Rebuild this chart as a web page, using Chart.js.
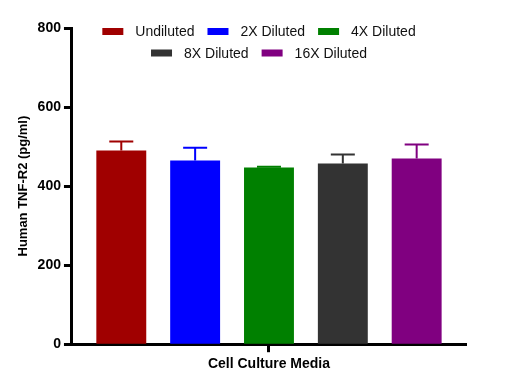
<!DOCTYPE html>
<html>
<head>
<meta charset="utf-8">
<script src="https://cdn.jsdelivr.net/npm/chart.js@4/dist/chart.umd.min.js"></script>
<style>
  html, body { margin: 0; padding: 0; background: #fff; }
  .chart { width: 511px; height: 389px; }
</style>
</head>
<body>
<div class="chart"><canvas id="chart"></canvas></div>
<script>
// data
const categories = ["Cell Culture Media"];
const dilutions = ["Undiluted", "2X Diluted", "4X Diluted", "8X Diluted", "16X Diluted"];
const means = [490, 465, 447, 457, 470];
const errors = [23, 32, 2, 23, 35];
const colors = ["#a00000", "#0000ff", "#008000", "#333333", "#800080"];
const yTicks = [0, 200, 400, 600, 800];

const FONT = '"Liberation Sans", Arial, sans-serif';

// upper error bars only, like the prism export
const errorBars = {
  id: "errorBars",
  afterDatasetsDraw(chart) {
    const ctx = chart.ctx;
    const y = chart.scales.y;
    ctx.save();
    ctx.lineWidth = 2;
    chart.data.datasets.forEach((ds, i) => {
      const bar = chart.getDatasetMeta(i).data[0];
      const top = y.getPixelForValue(ds.data[0] + ds.err);
      ctx.strokeStyle = ds.backgroundColor;
      ctx.beginPath();
      ctx.moveTo(bar.x, bar.y);
      ctx.lineTo(bar.x, top);
      ctx.moveTo(bar.x - 12, top);
      ctx.lineTo(bar.x + 12, top);
      ctx.stroke();
    });
    ctx.restore();
  }
};

// legend in two centred rows (3 + 2), sitting inside the plot
const legendRows = {
  id: "legendRows",
  afterDraw(chart) {
    const ctx = chart.ctx;
    const sets = chart.data.datasets;
    const rows = [3, 2];
    ctx.save();
    ctx.font = "14px " + FONT;
    ctx.textBaseline = "middle";
    let start = 0;
    rows.forEach((count, r) => {
      const items = sets.slice(start, start + count);
      start += count;
      const widths = items.map(d => 33 + ctx.measureText(d.label).width);
      const total = widths.reduce((a, b) => a + b, 0) + 13 * (items.length - 1);
      let x = 259 - total / 2;
      const cy = 31.5 + r * 21.5;
      items.forEach((d, i) => {
        ctx.fillStyle = d.backgroundColor;
        ctx.fillRect(x, cy - 3.5, 21, 7);
        ctx.fillStyle = "#111";
        ctx.fillText(d.label, x + 33, cy + 1);
        x += widths[i] + 13;
      });
    });
    ctx.restore();
  }
};

const datasets = dilutions.map((label, i) => ({
  label: label,
  data: [means[i]],
  err: errors[i],
  backgroundColor: colors[i],
  borderWidth: 0,
  barPercentage: 0.676,
  categoryPercentage: 0.937
}));

new Chart(document.getElementById("chart"), {
  type: "bar",
  data: { labels: categories, datasets: datasets },
  plugins: [errorBars, legendRows],
  options: {
    responsive: true,
    maintainAspectRatio: false,
    animation: false,
    layout: { padding: { left: 13, right: 45, top: 28, bottom: 12 } },
    plugins: {
      legend: { display: false },
      tooltip: { enabled: false }
    },
    scales: {
      x: {
        ticks: { color: "#000", font: { family: FONT, size: 14, weight: "bold" }, padding: 4 },
        grid: { drawOnChartArea: false, offset: false, tickLength: 8, tickWidth: 3, color: "#000" },
        border: { color: "#000", width: 3 }
      },
      y: {
        min: 0,
        max: 800,
        afterBuildTicks: axis => { axis.ticks = yTicks.map(v => ({ value: v })); },
        ticks: { color: "#000", font: { family: FONT, size: 14, weight: "bold" }, padding: 3 },
        grid: { drawOnChartArea: false, tickLength: 8, tickWidth: 3, color: "#000" },
        border: { color: "#000", width: 3 },
        title: {
          display: true,
          text: "Human TNF-R2 (pg/ml)",
          color: "#000",
          font: { family: FONT, size: 13, weight: "bold" },
          padding: { top: 3, bottom: 3 }
        }
      }
    }
  }
});
</script>
</body>
</html>
